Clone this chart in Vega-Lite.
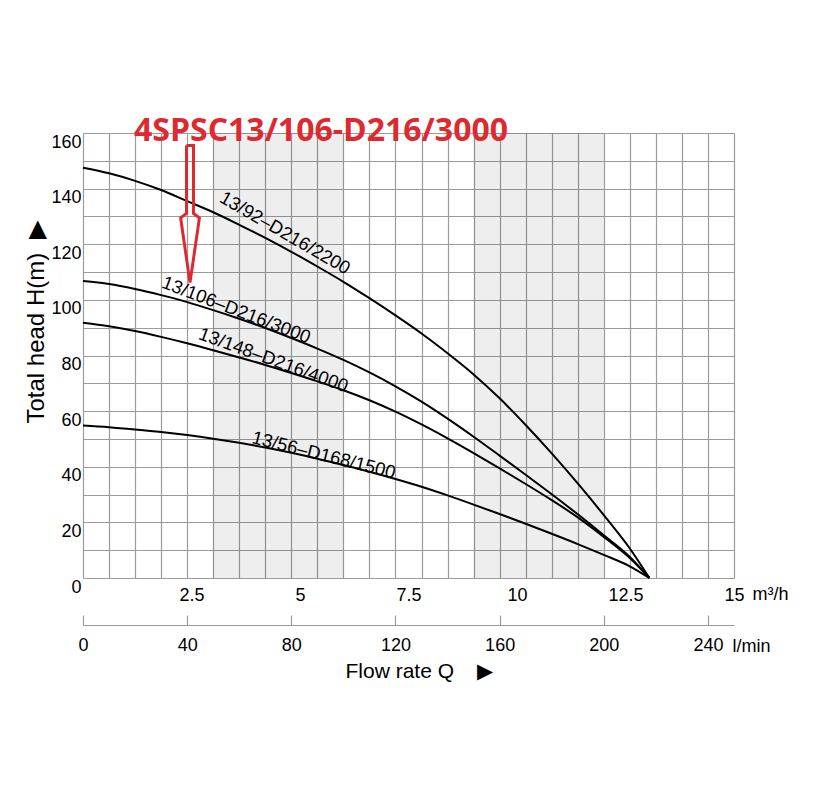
{
  "$schema": "https://vega.github.io/schema/vega-lite/v6.json",
  "width": 651,
  "height": 445,
  "autosize": {"type": "none"},
  "padding": {"left": 83, "top": 133, "right": 91, "bottom": 223},
  "background": "white",
  "config": {"view": {"stroke": null}, "font": "Liberation Sans"},
  "title": {
    "text": "4SPSC13/106-D216/3000",
    "anchor": "start",
    "frame": "group",
    "font": "Open Sans",
    "fontSize": 32,
    "fontWeight": "bold",
    "color": "#dd2a30",
    "baseline": "alphabetic",
    "offset": 0,
    "dx": 51,
    "dy": 40
  },
  "datasets": {
    "bands": [
      {"start": 50, "end": 100},
      {"start": 150, "end": 200}
    ],
    "curves": [
      {"pump": "13/92-D216/2200", "q": 0, "h": 147.5},
      {"pump": "13/92-D216/2200", "q": 10, "h": 145.5},
      {"pump": "13/92-D216/2200", "q": 20, "h": 142.8},
      {"pump": "13/92-D216/2200", "q": 30, "h": 139.5},
      {"pump": "13/92-D216/2200", "q": 40, "h": 135.5},
      {"pump": "13/92-D216/2200", "q": 50, "h": 131.5},
      {"pump": "13/92-D216/2200", "q": 60, "h": 127},
      {"pump": "13/92-D216/2200", "q": 70, "h": 122.3},
      {"pump": "13/92-D216/2200", "q": 80, "h": 117.3},
      {"pump": "13/92-D216/2200", "q": 90, "h": 112},
      {"pump": "13/92-D216/2200", "q": 100, "h": 106.5},
      {"pump": "13/92-D216/2200", "q": 110, "h": 100.6},
      {"pump": "13/92-D216/2200", "q": 120, "h": 94.4},
      {"pump": "13/92-D216/2200", "q": 130, "h": 87.9},
      {"pump": "13/92-D216/2200", "q": 140, "h": 80.8},
      {"pump": "13/92-D216/2200", "q": 150, "h": 73.2},
      {"pump": "13/92-D216/2200", "q": 160, "h": 64.6},
      {"pump": "13/92-D216/2200", "q": 170, "h": 55},
      {"pump": "13/92-D216/2200", "q": 180, "h": 44.8},
      {"pump": "13/92-D216/2200", "q": 190, "h": 34},
      {"pump": "13/92-D216/2200", "q": 200, "h": 22.6},
      {"pump": "13/92-D216/2200", "q": 210, "h": 10.6},
      {"pump": "13/92-D216/2200", "q": 217.5, "h": 0},
      {"pump": "13/106-D216/3000", "q": 0, "h": 106.8},
      {"pump": "13/106-D216/3000", "q": 10, "h": 105.7},
      {"pump": "13/106-D216/3000", "q": 20, "h": 103.9},
      {"pump": "13/106-D216/3000", "q": 30, "h": 101.7},
      {"pump": "13/106-D216/3000", "q": 40, "h": 99.2},
      {"pump": "13/106-D216/3000", "q": 50, "h": 96.3},
      {"pump": "13/106-D216/3000", "q": 60, "h": 93.2},
      {"pump": "13/106-D216/3000", "q": 70, "h": 89.9},
      {"pump": "13/106-D216/3000", "q": 80, "h": 86.3},
      {"pump": "13/106-D216/3000", "q": 90, "h": 82.5},
      {"pump": "13/106-D216/3000", "q": 100, "h": 78.4},
      {"pump": "13/106-D216/3000", "q": 110, "h": 73.9},
      {"pump": "13/106-D216/3000", "q": 120, "h": 68.9},
      {"pump": "13/106-D216/3000", "q": 130, "h": 63.4},
      {"pump": "13/106-D216/3000", "q": 140, "h": 57.3},
      {"pump": "13/106-D216/3000", "q": 150, "h": 50.8},
      {"pump": "13/106-D216/3000", "q": 160, "h": 44},
      {"pump": "13/106-D216/3000", "q": 170, "h": 37.1},
      {"pump": "13/106-D216/3000", "q": 180, "h": 30.1},
      {"pump": "13/106-D216/3000", "q": 190, "h": 22.9},
      {"pump": "13/106-D216/3000", "q": 200, "h": 15.4},
      {"pump": "13/106-D216/3000", "q": 210, "h": 7.6},
      {"pump": "13/106-D216/3000", "q": 217.5, "h": 0},
      {"pump": "13/148-D216/4000", "q": 0, "h": 91.8},
      {"pump": "13/148-D216/4000", "q": 10, "h": 90.5},
      {"pump": "13/148-D216/4000", "q": 20, "h": 88.8},
      {"pump": "13/148-D216/4000", "q": 30, "h": 86.7},
      {"pump": "13/148-D216/4000", "q": 40, "h": 84.4},
      {"pump": "13/148-D216/4000", "q": 50, "h": 81.9},
      {"pump": "13/148-D216/4000", "q": 60, "h": 79.3},
      {"pump": "13/148-D216/4000", "q": 70, "h": 76.6},
      {"pump": "13/148-D216/4000", "q": 80, "h": 73.7},
      {"pump": "13/148-D216/4000", "q": 90, "h": 70.7},
      {"pump": "13/148-D216/4000", "q": 100, "h": 67.5},
      {"pump": "13/148-D216/4000", "q": 110, "h": 63.9},
      {"pump": "13/148-D216/4000", "q": 120, "h": 59.8},
      {"pump": "13/148-D216/4000", "q": 130, "h": 55.2},
      {"pump": "13/148-D216/4000", "q": 140, "h": 50.2},
      {"pump": "13/148-D216/4000", "q": 150, "h": 44.9},
      {"pump": "13/148-D216/4000", "q": 160, "h": 39.4},
      {"pump": "13/148-D216/4000", "q": 170, "h": 33.8},
      {"pump": "13/148-D216/4000", "q": 180, "h": 28},
      {"pump": "13/148-D216/4000", "q": 190, "h": 21.8},
      {"pump": "13/148-D216/4000", "q": 200, "h": 14.8},
      {"pump": "13/148-D216/4000", "q": 210, "h": 7.2},
      {"pump": "13/148-D216/4000", "q": 217.5, "h": 0},
      {"pump": "13/56-D168/1500", "q": 0, "h": 54.8},
      {"pump": "13/56-D168/1500", "q": 10, "h": 54.2},
      {"pump": "13/56-D168/1500", "q": 20, "h": 53.4},
      {"pump": "13/56-D168/1500", "q": 30, "h": 52.5},
      {"pump": "13/56-D168/1500", "q": 40, "h": 51.4},
      {"pump": "13/56-D168/1500", "q": 50, "h": 50.1},
      {"pump": "13/56-D168/1500", "q": 60, "h": 48.6},
      {"pump": "13/56-D168/1500", "q": 70, "h": 46.9},
      {"pump": "13/56-D168/1500", "q": 80, "h": 45},
      {"pump": "13/56-D168/1500", "q": 90, "h": 42.9},
      {"pump": "13/56-D168/1500", "q": 100, "h": 40.6},
      {"pump": "13/56-D168/1500", "q": 110, "h": 38.2},
      {"pump": "13/56-D168/1500", "q": 120, "h": 35.6},
      {"pump": "13/56-D168/1500", "q": 130, "h": 32.8},
      {"pump": "13/56-D168/1500", "q": 140, "h": 29.7},
      {"pump": "13/56-D168/1500", "q": 150, "h": 26.4},
      {"pump": "13/56-D168/1500", "q": 160, "h": 23},
      {"pump": "13/56-D168/1500", "q": 170, "h": 19.5},
      {"pump": "13/56-D168/1500", "q": 180, "h": 15.9},
      {"pump": "13/56-D168/1500", "q": 190, "h": 12.2},
      {"pump": "13/56-D168/1500", "q": 200, "h": 8.3},
      {"pump": "13/56-D168/1500", "q": 210, "h": 4.2},
      {"pump": "13/56-D168/1500", "q": 217.5, "h": 0}
    ],
    "arrow": [
      {"i": 0, "q": 39.75, "h": 155.5},
      {"i": 1, "q": 42.43, "h": 155.5},
      {"i": 2, "q": 42.43, "h": 131.1},
      {"i": 3, "q": 44.7, "h": 129.5},
      {"i": 4, "q": 44.3, "h": 126.8},
      {"i": 5, "q": 41.09, "h": 106.2},
      {"i": 6, "q": 37.9, "h": 126.8},
      {"i": 7, "q": 37.5, "h": 129.5},
      {"i": 8, "q": 39.75, "h": 131.1},
      {"i": 9, "q": 39.75, "h": 155.5}
    ],
    "labels": [
      {"label": "13/92–D216/2200", "q": 77.6, "h": 124.1},
      {"label": "13/106–D216/3000", "q": 58.9, "h": 96.4},
      {"label": "13/148–D216/4000", "q": 73.2, "h": 78.4},
      {"label": "13/56–D168/1500", "q": 92.5, "h": 44.2}
    ]
  },
  "layer": [
    {
      "data": {"name": "bands"},
      "mark": {"type": "rect", "fill": "#000000", "fillOpacity": 0.065},
      "encoding": {
        "x": {
          "field": "start", "type": "quantitative",
          "scale": {"domain": [0, 250], "nice": false, "zero": false},
          "axis": {
            "orient": "bottom",
            "values": [0,10,20,30,40,50,60,70,80,90,100,110,120,130,140,150,160,170,180,190,200,210,220,230,240,250],
            "grid": true, "gridColor": "#9b9b9b", "gridWidth": 1.2, "gridOpacity": 1,
            "labels": false, "ticks": false, "domain": false,
            "title": "Flow rate Q\u00a0\u00a0\u00a0 ▶",
            "titleFont": "Liberation Sans", "titleFontSize": 21, "titleFontWeight": "normal", "titleColor": "#000000",
            "titleX": 262, "titleY": 99, "titleAlign": "left", "titleBaseline": "alphabetic", "titleAnchor": "start"
          }
        },
        "x2": {"field": "end"}
      }
    },
    {
      "data": {"name": "curves"},
      "mark": {"type": "line", "color": "#000000", "strokeWidth": 2, "interpolate": "monotone"},
      "encoding": {
        "x": {
          "field": "q", "type": "quantitative",
          "scale": {"domain": [0, 250], "nice": false, "zero": false},
          "axis": {
            "orient": "bottom",
            "values": [41.6666667, 83.3333333, 125, 166.6666667, 208.3333333, 250],
            "labelExpr": "format(datum.value * 0.06, '.3~f')",
            "grid": false, "ticks": false, "domain": false,
            "labelFont": "Liberation Sans", "labelFontSize": 18, "labelColor": "#000000",
            "labelPadding": 8, "labelFlush": false, "labelOverlap": false,
            "title": "m³/h",
            "titleFont": "Liberation Sans", "titleFontSize": 18, "titleFontWeight": "normal", "titleColor": "#000000",
            "titleX": 669, "titleY": 21, "titleAlign": "left", "titleBaseline": "alphabetic", "titleAnchor": "start"
          }
        },
        "y": {
          "field": "h", "type": "quantitative",
          "scale": {"domain": [0, 160], "nice": false, "zero": true},
          "axis": {
            "values": [0,10,20,30,40,50,60,70,80,90,100,110,120,130,140,150,160],
            "labelExpr": "datum.value % 20 === 0 ? datum.label : ''",
            "grid": true, "gridColor": "#9b9b9b", "gridWidth": 1.2, "gridOpacity": 1,
            "ticks": false, "domain": false,
            "labelFont": "Liberation Sans", "labelFontSize": 18, "labelColor": "#000000",
            "labelPadding": 2, "labelOffset": 9, "labelOverlap": false, "labelFlush": false,
            "title": "Total head H(m)\u00a0 ▶",
            "titleFont": "Liberation Sans", "titleFontSize": 24, "titleFontWeight": "normal", "titleColor": "#000000",
            "titleAngle": 270, "titleX": -40, "titleY": 189, "titleAlign": "center", "titleBaseline": "alphabetic"
          }
        },
        "detail": {"field": "pump"}
      }
    },
    {
      "data": {"name": "arrow"},
      "mark": {"type": "line", "color": "#dd2a30", "strokeWidth": 3, "strokeJoin": "miter"},
      "encoding": {
        "x": {
          "field": "q", "type": "quantitative",
          "scale": {"domain": [0, 250], "nice": false, "zero": false},
          "axis": {
            "orient": "bottom", "offset": 47,
            "values": [0, 40, 80, 120, 160, 200, 240],
            "grid": false,
            "domain": true, "domainColor": "#9b9b9b", "domainWidth": 1.2,
            "ticks": false,
            "labelFont": "Liberation Sans", "labelFontSize": 18, "labelColor": "#000000",
            "labelPadding": 11, "labelFlush": false, "labelOverlap": false,
            "title": "l/min",
            "titleFont": "Liberation Sans", "titleFontSize": 18, "titleFontWeight": "normal", "titleColor": "#000000",
            "titleX": 649, "titleY": 26, "titleAlign": "left", "titleBaseline": "alphabetic", "titleAnchor": "start"
          }
        },
        "y": {"field": "h", "type": "quantitative", "scale": {"domain": [0, 160], "nice": false}, "axis": null},
        "order": {"field": "i", "type": "quantitative"}
      }
    },
    {
      "data": {"name": "labels"},
      "transform": [{"filter": "datum.label === '13/92–D216/2200'"}],
      "mark": {"type": "text", "angle": 30, "font": "Liberation Sans", "fontSize": 18.5, "color": "#000000", "align": "center", "baseline": "middle"},
      "encoding": {
        "x": {
          "field": "q", "type": "quantitative",
          "scale": {"domain": [0, 250], "nice": false, "zero": false},
          "axis": {
            "orient": "bottom", "offset": 37,
            "values": [0, 40, 80, 120, 160, 200, 240],
            "grid": false, "domain": false, "labels": false, "title": null,
            "ticks": true, "tickColor": "#9b9b9b", "tickWidth": 1.2, "tickSize": 10
          }
        },
        "y": {"field": "h", "type": "quantitative", "axis": null},
        "text": {"field": "label"}
      }
    },
    {
      "data": {"name": "labels"},
      "transform": [{"filter": "datum.label === '13/106–D216/3000'"}],
      "mark": {"type": "text", "angle": 21, "font": "Liberation Sans", "fontSize": 18.5, "color": "#000000", "align": "center", "baseline": "middle"},
      "encoding": {
        "x": {"field": "q", "type": "quantitative", "axis": null},
        "y": {"field": "h", "type": "quantitative", "axis": null},
        "text": {"field": "label"}
      }
    },
    {
      "data": {"name": "labels"},
      "transform": [{"filter": "datum.label === '13/148–D216/4000'"}],
      "mark": {"type": "text", "angle": 20, "font": "Liberation Sans", "fontSize": 18.5, "color": "#000000", "align": "center", "baseline": "middle"},
      "encoding": {
        "x": {"field": "q", "type": "quantitative", "axis": null},
        "y": {"field": "h", "type": "quantitative", "axis": null},
        "text": {"field": "label"}
      }
    },
    {
      "data": {"name": "labels"},
      "transform": [{"filter": "datum.label === '13/56–D168/1500'"}],
      "mark": {"type": "text", "angle": 14, "font": "Liberation Sans", "fontSize": 18.5, "color": "#000000", "align": "center", "baseline": "middle"},
      "encoding": {
        "x": {"field": "q", "type": "quantitative", "axis": null},
        "y": {"field": "h", "type": "quantitative", "axis": null},
        "text": {"field": "label"}
      }
    }
  ],
  "resolve": {"axis": {"x": "independent", "y": "independent"}}
}
